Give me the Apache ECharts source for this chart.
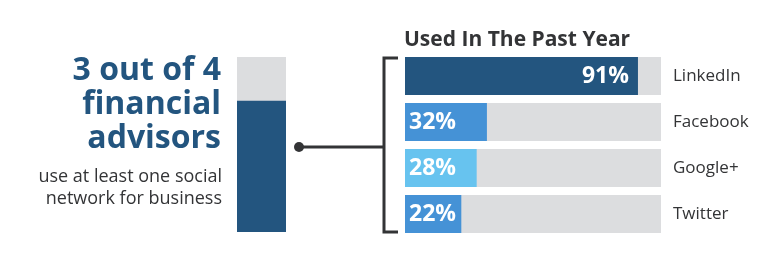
<!DOCTYPE html>
<html><head><meta charset="utf-8">
<script src="https://cdn.jsdelivr.net/npm/echarts@6/dist/echarts.min.js"></script>
<style>html,body{margin:0;padding:0;background:#fff}#c{width:783px;height:260px}</style>
</head><body><div id="c"></div>
<script>
const categories = ['LinkedIn', 'Facebook', 'Google+', 'Twitter'];
const values = [91, 32, 28, 22];
const barColors = ['#23557f', '#4592d6', '#67c3ef', '#4592d6'];
const overallShare = [75];
const title = 'Used In The Past Year';
const headline = ['3 out of 4', 'financial', 'advisors'];
const subline = ['use at least one social', 'network for business'];

const FONT = '"Open Sans", "Noto Sans", sans-serif';
const chart = echarts.init(document.getElementById('c'), null, {renderer: 'canvas'});
const gray = '#dcdddf';
const ink = '#333436';

chart.setOption({
  animation: false,
  grid: [
    {left: 237, width: 49, top: 57, height: 175},
    {left: 405, width: 256, top: 53, height: 184}
  ],
  xAxis: [
    {gridIndex: 0, type: 'category', data: ['all'], show: false},
    {gridIndex: 1, type: 'value', min: 0, max: 100, show: false}
  ],
  yAxis: [
    {gridIndex: 0, type: 'value', min: 0, max: 100, show: false},
    {gridIndex: 1, type: 'category', data: categories, inverse: true, position: 'right',
     axisLine: {show: false}, axisTick: {show: false}, splitLine: {show: false},
     axisLabel: {margin: 12, color: ink, fontSize: 17, fontFamily: FONT}}
  ],
  series: [
    {type: 'bar', xAxisIndex: 0, yAxisIndex: 0, data: overallShare, barWidth: 49,
     showBackground: true, backgroundStyle: {color: gray},
     itemStyle: {color: '#23557f'}},
    {type: 'bar', xAxisIndex: 1, yAxisIndex: 1, barWidth: 38,
     showBackground: true, backgroundStyle: {color: gray},
     data: values.map((v, i) => ({
       value: v,
       itemStyle: {color: barColors[i]},
       label: {show: true, position: v > 50 ? 'insideRight' : 'insideLeft',
         distance: v > 50 ? 9 : 4,
         formatter: '{c}%', color: '#fff', fontSize: 23, fontWeight: 'bold', fontFamily: FONT}
     }))}
  ],
  graphic: [
    {type: 'text', left: 404, top: 30, style: {text: title, fill: ink, font: 'bold 21px ' + FONT}},
    {type: 'text', right: 783 - 221, top: 54, style: {text: headline.join('\n'), fill: '#23557f',
      font: 'bold 32px ' + FONT, lineHeight: 34, textAlign: 'right'}},
    {type: 'text', right: 783 - 222, top: 166, style: {text: subline.join('\n'), fill: ink,
      font: '18px ' + FONT, lineHeight: 22, textAlign: 'right'}},
    {type: 'polyline', shape: {points: [[398, 58], [384, 58], [384, 232], [398, 232]]},
     style: {stroke: ink, lineWidth: 3, fill: null}},
    {type: 'line', shape: {x1: 299, y1: 147, x2: 384, y2: 147}, style: {stroke: ink, lineWidth: 3}},
    {type: 'circle', shape: {cx: 299, cy: 147, r: 5}, style: {fill: ink}}
  ]
});
</script></body></html>
